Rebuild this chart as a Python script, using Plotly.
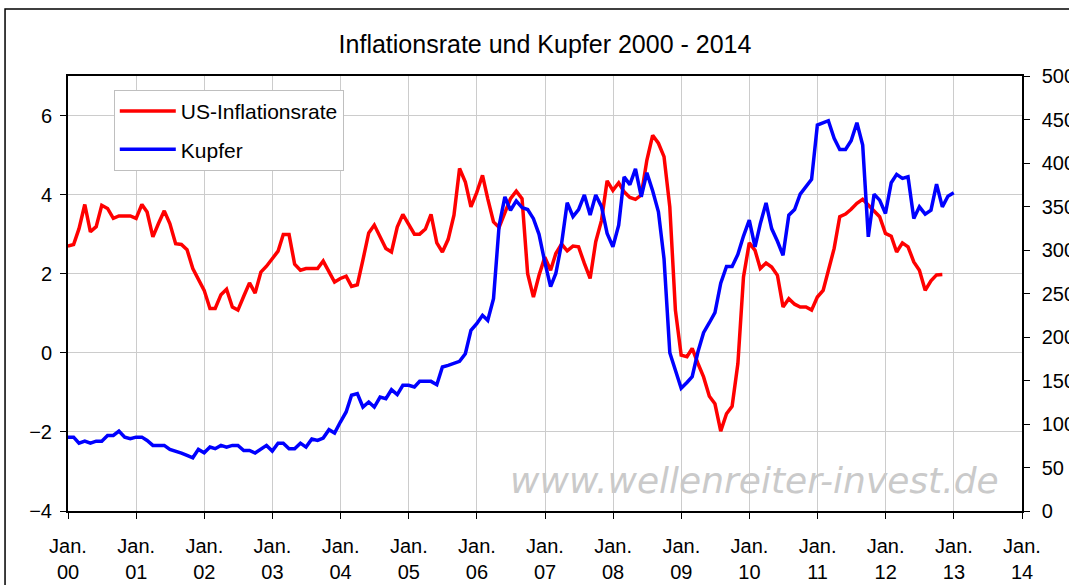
import pandas as pd
import plotly.graph_objects as go

# US-Inflationsrate (% y/y), month-end values starting Dec 1999
inflation = [
    2.70, 2.74, 3.14, 3.75, 3.06, 3.19, 3.73, 3.65, 3.40, 3.46, 3.46, 3.46,
    3.40, 3.75, 3.56, 2.93, 3.27, 3.59, 3.27, 2.76, 2.74, 2.61, 2.13, 1.88,
    1.58, 1.12, 1.12, 1.47, 1.61, 1.16, 1.08, 1.43, 1.77, 1.51, 2.04, 2.19,
    2.38, 2.57, 2.99, 2.99, 2.24, 2.09, 2.13, 2.13, 2.13, 2.32, 2.06, 1.79,
    1.88, 1.94, 1.68, 1.72, 2.35, 3.03, 3.23, 2.95, 2.64, 2.55, 3.18, 3.50,
    3.23, 3.00, 3.00, 3.13, 3.50, 2.78, 2.55, 2.87, 3.48, 4.66, 4.32, 3.69,
    4.05, 4.49, 3.90, 3.31, 3.17, 3.52, 3.90, 4.09, 3.90, 2.00, 1.41, 1.96,
    2.42, 2.09, 2.51, 2.75, 2.58, 2.70, 2.68, 2.26, 1.88, 2.81, 3.35, 4.35,
    4.11, 4.30, 4.07, 3.93, 3.88, 3.99, 4.87, 5.50, 5.30, 4.96, 3.69, 1.08,
    -0.06, -0.10, 0.11, -0.27, -0.61, -1.10, -1.29, -1.98, -1.54, -1.35, -0.27, 1.92,
    2.78, 2.59, 2.13, 2.27, 2.17, 1.96, 1.16, 1.37, 1.23, 1.16, 1.16, 1.08,
    1.41, 1.58, 2.10, 2.64, 3.44, 3.51, 3.63, 3.78, 3.88, 3.73, 3.56, 3.44,
    3.02, 2.95, 2.55, 2.78, 2.68, 2.30, 2.09, 1.58, 1.82, 1.97, 1.98,
]

# Kupfer (US-Cent/lb), month-end values starting Dec 1999
kupfer = [
    84.9, 84.9, 78.0, 80.3, 78.0, 80.3, 80.3, 86.9, 86.9, 91.9, 84.9, 83.0,
    84.9, 84.9, 81.1, 75.4, 75.4, 75.4, 70.8, 68.9, 66.6, 64.0, 61.2, 70.8,
    67.0, 73.5, 71.6, 75.4, 73.5, 75.4, 75.4, 69.6, 69.6, 66.6, 71.6, 75.4,
    68.9, 78.0, 78.0, 71.6, 71.6, 78.0, 73.5, 82.7, 81.1, 83.8, 93.5, 89.6,
    102.3, 113.8, 133.0, 134.9, 119.5, 125.3, 119.5, 131.0, 129.1, 139.4, 133.7, 144.4,
    144.4, 142.5, 149.0, 149.0, 149.0, 145.2, 165.5, 167.4, 169.3, 172.0, 180.8, 207.6,
    215.3, 224.9, 219.1, 244.0, 328.0, 361.1, 345.7, 356.5, 348.8, 346.5, 336.0, 318.0,
    286.0, 258.0, 273.0, 307.5, 354.3, 338.5, 346.5, 363.2, 340.2, 363.2, 349.8, 319.1,
    303.7, 328.6, 384.0, 375.2, 393.3, 361.2, 388.8, 368.0, 343.9, 290.0, 182.0, 161.7,
    141.0, 147.7, 154.4, 183.0, 205.0, 216.4, 228.0, 261.8, 281.0, 281.0, 295.0, 316.0,
    334.3, 303.6, 330.0, 354.2, 324.6, 310.0, 293.9, 340.0, 346.5, 364.2, 373.4, 381.1,
    443.6, 446.0, 448.6, 428.3, 415.6, 415.6, 425.6, 446.3, 420.6, 315.1, 364.2, 357.3,
    342.0, 377.3, 386.9, 382.3, 384.1, 336.2, 349.6, 341.2, 345.8, 375.7, 349.6, 361.9,
    365.7,
]

years = list(range(2000, 2015))
x_tick_labels = [f"Jan.<br>{y % 100:02d}" for y in years]
left_ticks = [-4, -2, 0, 2, 4, 6]
right_ticks = list(range(0, 501, 50))

dates_infl = pd.date_range("2000-01-01", periods=len(inflation), freq="MS") - pd.Timedelta(days=1)
dates_cu = pd.date_range("2000-01-01", periods=len(kupfer), freq="MS") - pd.Timedelta(days=1)

FONT = "Liberation Sans, Arial, sans-serif"

fig = go.Figure()
fig.add_trace(go.Scatter(
    x=dates_infl, y=inflation, name="US-Inflationsrate", mode="lines",
    line=dict(color="#ff0000", width=3.5), legendgroup="a",
))
fig.add_trace(go.Scatter(
    x=dates_cu, y=kupfer, name="Kupfer", mode="lines", yaxis="y2",
    line=dict(color="#0000ff", width=3.5), legendgroup="b",
))

fig.update_layout(
    width=1069, height=585,
    margin=dict(l=68, r=47, t=76, b=74, autoexpand=False),
    paper_bgcolor="white", plot_bgcolor="white",
    font=dict(family=FONT, size=20, color="black"),
    title=dict(text="Inflationsrate und Kupfer 2000 - 2014", x=0.5, xref="paper",
               xanchor="center", y=1 - 44 / 585, yref="container", yanchor="middle",
               font=dict(size=25, family=FONT, color="black")),
    showlegend=True,
    legend=dict(x=0.048, y=0.968, xanchor="left", yanchor="top", bgcolor="white",
                bordercolor="#bfbfbf", borderwidth=1, font=dict(size=21, family=FONT),
                tracegroupgap=8, itemwidth=56),
    xaxis=dict(type="date", range=["2000-01-01", "2014-01-01"], automargin=False,
               tickvals=[f"{y}-01-01" for y in years], ticktext=x_tick_labels,
               showgrid=True, gridcolor="#cccccc", gridwidth=1,
               showline=True, linecolor="black", linewidth=1.5, mirror=True,
               ticks="outside", ticklen=6, tickcolor="black", ticklabelstandoff=10,
               tickfont=dict(size=20, family=FONT)),
    yaxis=dict(range=[-4, 7], tickvals=left_ticks, showgrid=True, gridcolor="#cccccc",
               automargin=False,
               zeroline=False, showline=True, linecolor="black", linewidth=2,
               ticks="outside", ticklen=6, tickcolor="black", ticklabelstandoff=4,
               tickfont=dict(size=20, family=FONT)),
    yaxis2=dict(range=[0, 500], tickvals=right_ticks, overlaying="y", side="right",
                automargin=False,
                showgrid=False, zeroline=False, showline=True, linecolor="black",
                linewidth=1.5, ticks="outside", ticklen=6, tickcolor="black",
                ticklabelstandoff=8, tickfont=dict(size=20, family=FONT)),
    annotations=[dict(text="<i>www.wellenreiter-invest.de</i>", xref="paper", yref="paper",
                      x=0.72, y=0.069, xanchor="center", yanchor="middle", showarrow=False,
                      font=dict(family="DejaVu Sans, sans-serif", size=36, color="#cacaca"))],
    shapes=[dict(type="rect", xref="paper", yref="paper", x0=-0.066, x1=1.2, y0=-0.3,
                 y1=1.154, line=dict(color="black", width=1.5), fillcolor="rgba(0,0,0,0)",
                 layer="below")],
)

fig.write_html("out.html", config={"displayModeBar": False},
               post_script="document.body.style.margin='0';document.body.style.overflow='hidden';")
